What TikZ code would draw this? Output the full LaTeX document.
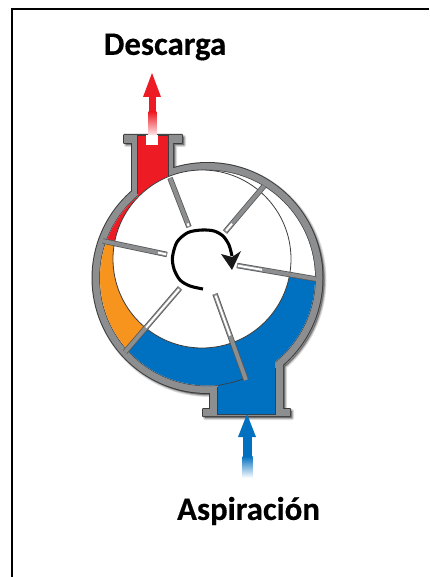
\documentclass[tikz,border=0pt]{standalone}
\usepackage{fontspec}
\setmainfont{Carlito}[BoldFeatures={FakeBold=0.35}]
\usetikzlibrary{arrows.meta,shadings}
\definecolor{casegray}{HTML}{8C8E90}
\definecolor{caseedge}{HTML}{3C3C3C}
\definecolor{pumpred}{HTML}{ED1C24}
\definecolor{pumporange}{HTML}{F7941D}
\definecolor{pumpblue}{HTML}{0070C0}
\newcommand{\pumpOutline}{%
  (124,135) -- (182,135) -- (182,143) -- (173,143) -- (173,172) -- (132,194) -- (132,143) -- (124,143) -- cycle
  (203,409) -- (210,409) -- (210,392) -- (283,362) -- (283,409) -- (290,409) -- (290,416) -- (203,416) -- cycle
  (207.5,278) circle (115)}
\newcommand{\vaneAt}[4]{%
  \draw[vaneg] #1 -- #2;
  \draw[vanef] #1 -- #2;
  \draw[vanew] #3 -- #4;}
\tikzset{
  px/.style={x=0.75pt,y=-0.75pt},
  lbl/.style={font=\bfseries\fontsize{24.6}{29}\selectfont,inner sep=0pt,text=black},
  vaneg/.style={line width=4.1pt,draw=caseedge!85!white},
  vanef/.style={line width=2.9pt,draw=casegray},
  vanew/.style={line width=1.5pt,draw=white},
  softshadow/.style={fill=black,draw=black,opacity=0.13,line join=round},
}
\begin{document}
\begin{tikzpicture}[px]
\useasboundingbox (0,0) rectangle (429,577);
\fill[white] (0,0) rectangle (429,577);
\draw[black,line width=1.4pt] (12,577) -- (12,9) -- (429,9);
% soft shadow
\foreach \w in {3pt,1.8pt,0.6pt}{
  \begin{scope}[shift={(2,2)}]
    \path[softshadow,line width=\w] \pumpOutline;
  \end{scope}
}
% casing silhouette
\draw[caseedge,line width=1.5pt,line join=round] \pumpOutline;
\fill[casegray] (124,135) -- (182,135) -- (182,143) -- (173,143) -- (173,172) -- (132,194) -- (132,143) -- (124,143) -- cycle;
\fill[casegray] (203,409) -- (210,409) -- (210,392) -- (283,362) -- (283,409) -- (290,409) -- (290,416) -- (203,416) -- cycle;
\fill[casegray] (207.5,278) circle (115);
% chamber
\fill[caseedge] (207.5,278) circle (108.2);
\fill[white] (207.5,278) circle (107.5);
% red discharge
\begin{scope}
  \clip (98,241) -- (125,247) -- (175,180) -- (170,170) -- (130,160) -- (85,200) -- cycle;
  \fill[pumpred] (207.5,278) circle (107.5);
\end{scope}
\fill[caseedge] (137.3,135.5) rectangle (168.7,194);
\fill[pumpred] (138,136) rectangle (168,200);
% orange
\begin{scope}
  \clip (98,241) -- (125,247) -- (202,259) -- (143,332) -- (125,352) -- (80,340) -- (80,250) -- cycle;
  \fill[pumporange] (207.5,278) circle (107.5);
\end{scope}
% blue
\begin{scope}
  \clip (125,352) -- (143,332) -- (202,259) -- (287,276) -- (318,281) -- (340,290) -- (340,420) -- (125,420) -- cycle;
  \fill[pumpblue] (207.5,278) circle (107.5);
\end{scope}
\fill[caseedge] (217.3,387) rectangle (218,414.8);
\fill[caseedge] (217.3,414) rectangle (275.7,414.8);
\fill[caseedge] (275,368) rectangle (275.7,414.8);
\fill[pumpblue] (218,372) -- (218,414) -- (275,414) -- (275,358) -- (245,370) -- cycle;
% rotor
\fill[white,draw=caseedge,line width=0.6pt] (202,259) circle (89);
\draw[caseedge,line width=0.5pt] (218,385.5) -- (232,382.5) -- (245,378.5);
% vanes
\vaneAt{(170,178)}{(189,227)}{(187.6,223.4)}{(188.6,226)}
\vaneAt{(103,241)}{(167,254.5)}{(158,252.6)}{(166,254.3)}
\vaneAt{(264,186)}{(225,232)}{(232,223.7)}{(226,230.8)}
\vaneAt{(316,279)}{(237,265.5)}{(262,269.8)}{(238,265.7)}
\vaneAt{(246,380)}{(215,294)}{(230,335.6)}{(215.6,295.6)}
\vaneAt{(125,352)}{(180,288)}{(146,327.6)}{(179,289.2)}
% rotation arrow
\draw[black,line width=2.3pt,line cap=butt] plot[smooth] coordinates {(203,289) (190,286) (180,280) (174,269) (172.5,257) (177,242) (188,232.5) (202,230) (214,231) (223,236) (229,245) (232,256)};
\fill[black!90] (232,270) -- (221,254) -- (232,257) -- (241,251) -- cycle;
% discharge arrow
\fill[pumpred] (152,73) -- (161,97) -- (143,97) -- cycle;
\fill[pumpred] (149,96) rectangle (156,112);
\shade[top color=pumpred,bottom color=white] (148.7,112) rectangle (156.3,138);
\fill[white] (146,135) rectangle (158,145);
% suction arrow
\fill[pumpblue] (247,414) -- (256,437) -- (238,437) -- cycle;
\fill[pumpblue] (243,436) rectangle (252,456);
\shade[top color=pumpblue,bottom color=white] (242.5,456) rectangle (252.5,478);
% labels
\node[lbl] (descarga) at (165,47) {Descarga};
\node[lbl] (aspiracion) at (248.5,511) {Aspiración};
\end{tikzpicture}
\end{document}
